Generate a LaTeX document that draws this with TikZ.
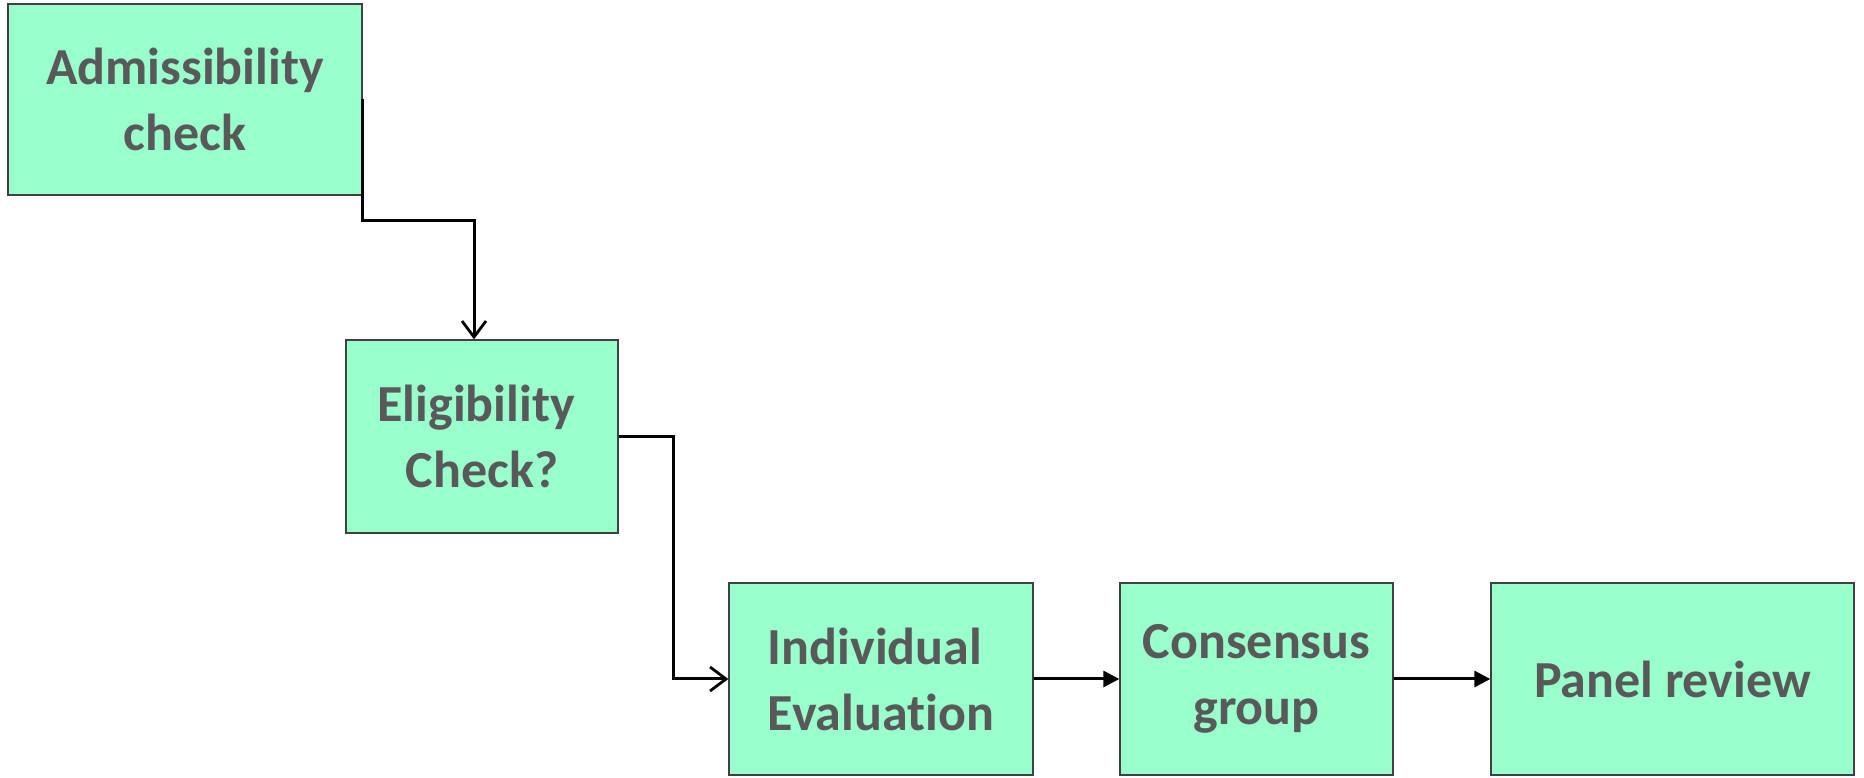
\documentclass[tikz,border=0pt]{standalone}
\usepackage{fontspec}
\setmainfont[Ligatures=NoCommon]{Carlito}
\usetikzlibrary{arrows.meta}
\definecolor{boxfill}{HTML}{99FFCC}
\definecolor{boxline}{HTML}{404040}
\definecolor{txt}{HTML}{595959}
\tikzset{
  stepbox/.style={draw=boxline, line width=1.3pt, fill=boxfill, inner sep=0pt,
    text=txt, align=center, font=\fontsize{52}{66}\selectfont\bfseries},
  conn/.style={draw=black, line width=3pt},
  openhead/.style={-{Straight Barb[length=16pt,width=24pt,line width=2.8pt]}},
  fillhead/.style={-{Triangle[length=16pt,width=16pt]}}
}
\begin{document}
\begin{tikzpicture}[x=1pt,y=1pt]
\useasboundingbox[fill=white] (0,0) rectangle (1864,778);
\node[stepbox, minimum width=354pt, minimum height=191pt] (adm) at (185,678.5) {Admissibility\\check};
\node[stepbox, minimum width=272pt, minimum height=193pt] (eli) at (482,341.5) {Eligibility\kern0.23em\\Check?};
\node[stepbox, minimum width=304pt, minimum height=192pt] (ind) at (881,99) {Individual\kern0.23em\\Evaluation};
\node[stepbox, minimum width=273pt, minimum height=192pt] (con) at (1256.5,99) {Consensus\\group};
\node[stepbox, minimum width=363pt, minimum height=192pt] (pan) at (1672.5,99) {Panel review};
\coordinate (elitop) at ([xshift=-8pt]eli.north);
\draw[conn, openhead] (adm.east) -- ++(0,-121) -| (elitop);
\draw[conn, openhead] (eli.east) -- ++(55,0) |- (ind.west);
\draw[conn, fillhead] (ind.east) -- (con.west);
\draw[conn, fillhead] (con.east) -- (pan.west);
\end{tikzpicture}
\end{document}
